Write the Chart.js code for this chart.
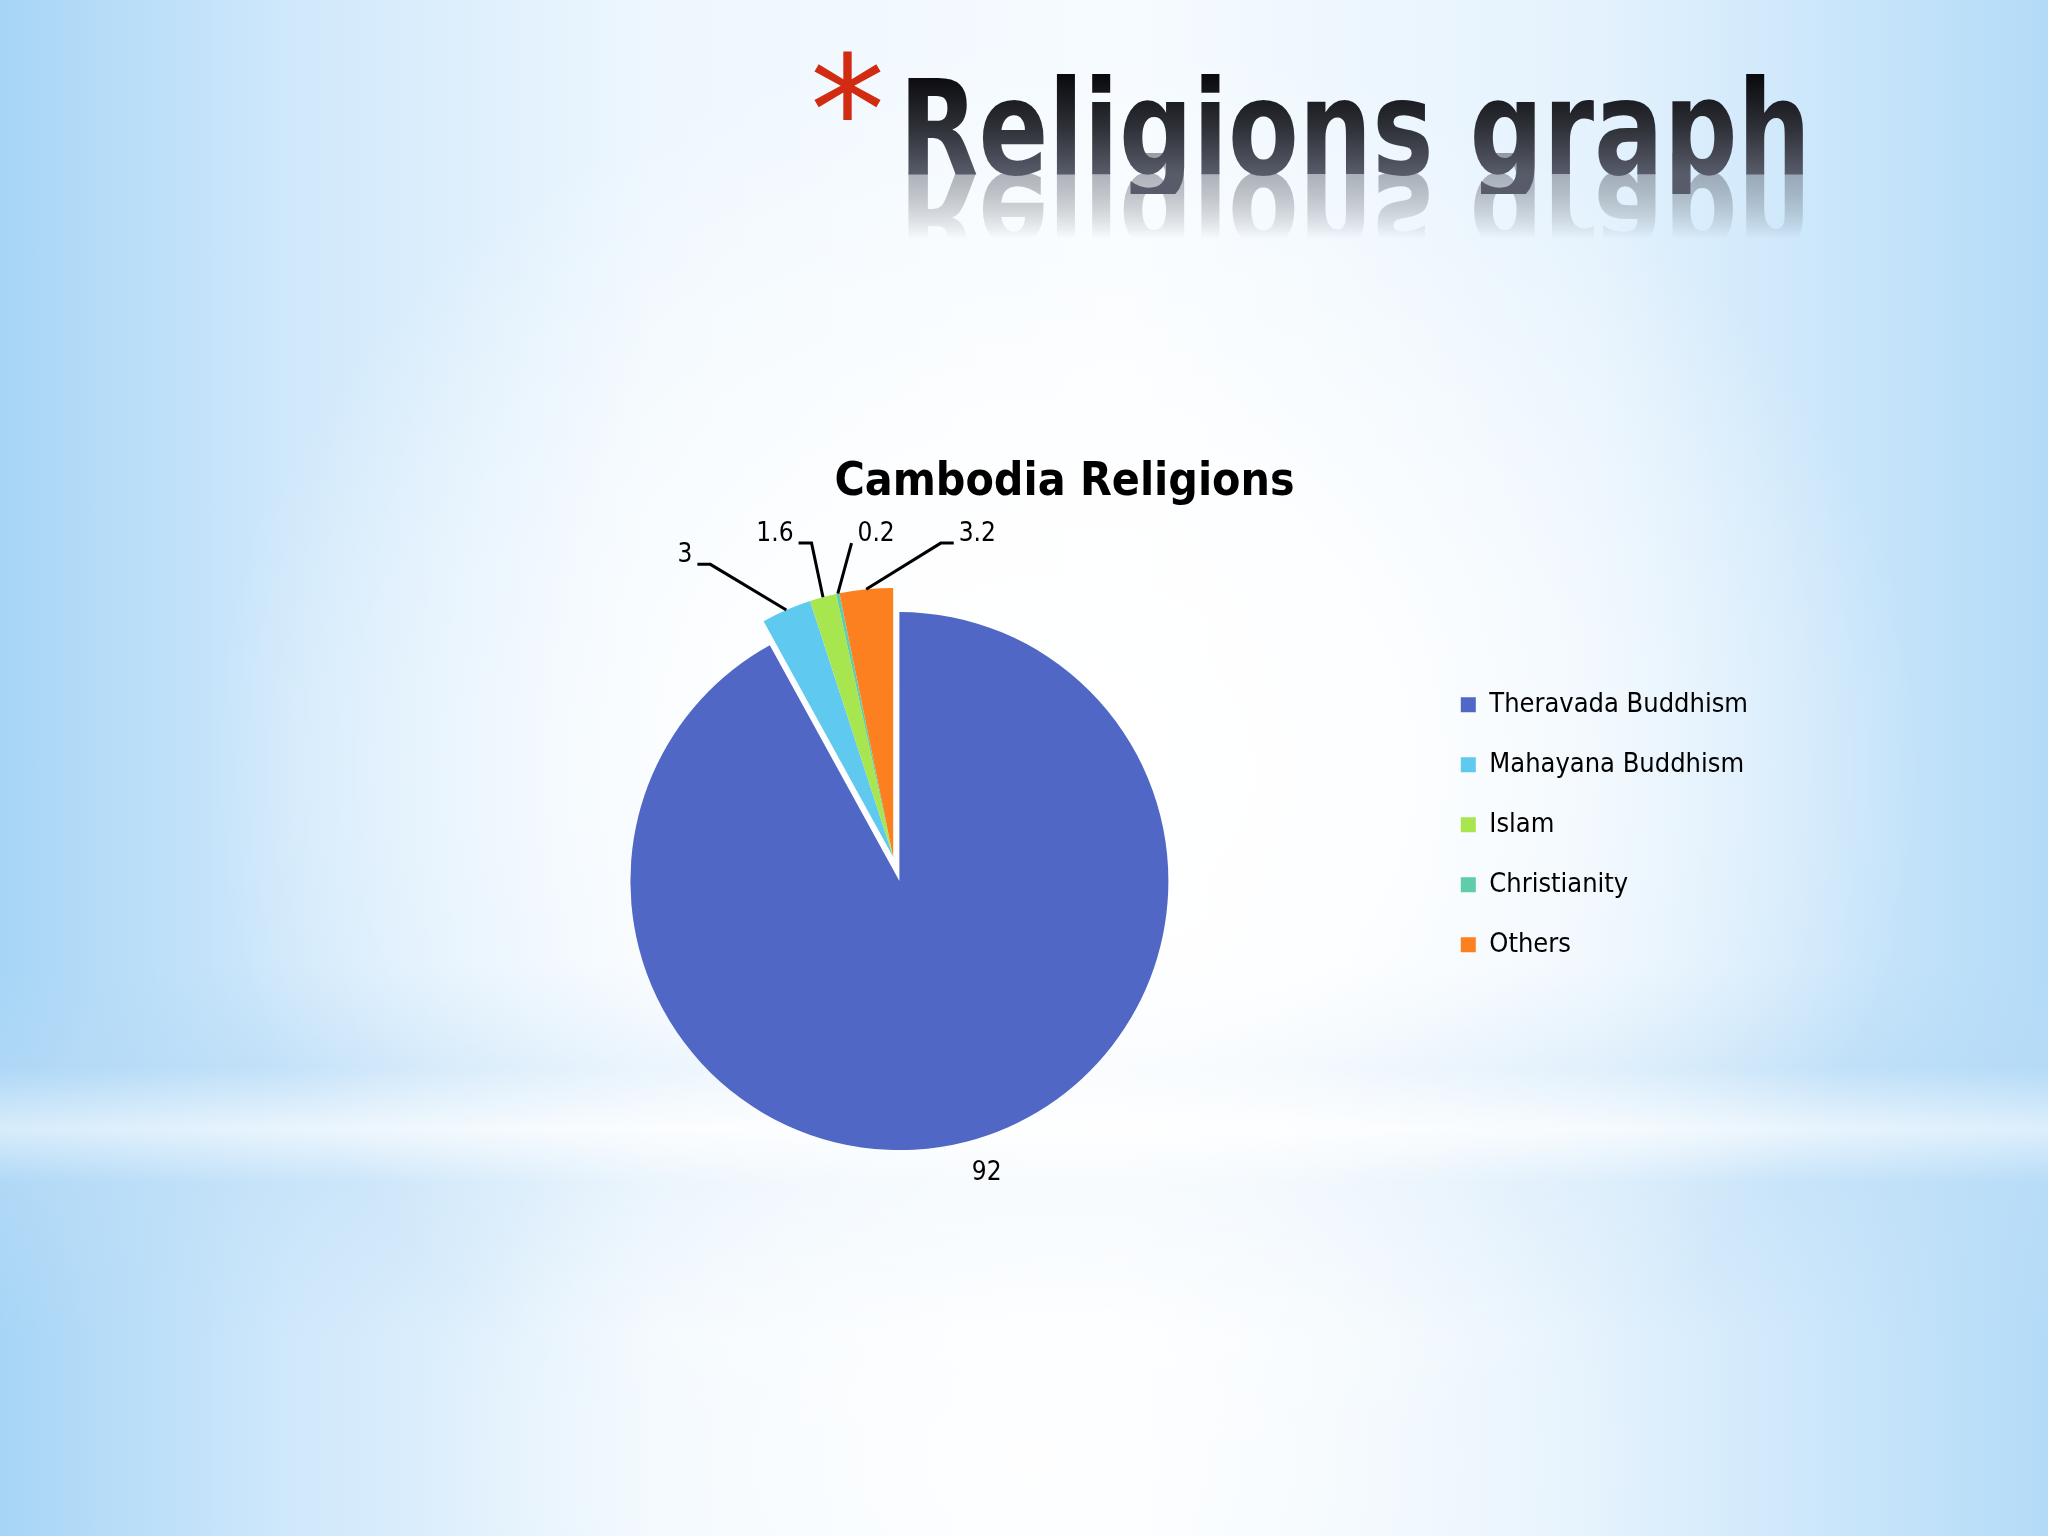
<!DOCTYPE html>
<html>
<head>
<meta charset="utf-8">
<script src="https://cdn.jsdelivr.net/npm/chart.js@4.4.1/dist/chart.umd.min.js"></script>
<style>
  html, body { margin: 0; padding: 0; }
  body {
    width: 2048px; height: 1536px; position: relative; overflow: hidden;
    background:
      radial-gradient(ellipse 42% 48% at 52% 50%, rgba(255,255,255,1) 0%, rgba(255,255,255,0.85) 40%, rgba(255,255,255,0) 100%),
      radial-gradient(ellipse 30% 30% at 50% 95%, rgba(255,255,255,0.9) 0%, rgba(255,255,255,0) 100%),
      linear-gradient(to bottom, rgba(255,255,255,0) 63%, rgba(182,218,246,0.45) 69.5%, rgba(255,255,255,0.55) 73.5%, rgba(190,222,247,0.4) 77%, rgba(255,255,255,0) 87%),
      linear-gradient(to right, #a7d5f6 0%, #cfe8fb 14%, #eef7fe 32%, #f6fbff 55%, #e4f2fd 78%, #b3dbf8 100%);
  }
  #slideTitle {
    position: absolute; left: 899px; top: 62px;
    font-family: "DejaVu Sans Condensed", "DejaVu Sans", sans-serif;
    font-weight: bold; font-size: 132px; line-height: 132px; height: 132px;
    white-space: nowrap;
    background: linear-gradient(to bottom, #0a0a0e 10%, #2f3138 50%, #585c6a 85%);
    -webkit-background-clip: text; background-clip: text; color: transparent;
    transform: scaleX(0.868); transform-origin: left top;
    -webkit-box-reflect: below -41px linear-gradient(to bottom, transparent 35%, rgba(255,255,255,0.6) 100%);
  }
  #asterisk {
    position: absolute; left: 810px; top: 36px;
    font-family: "DejaVu Sans", sans-serif; font-size: 150px; line-height: 150px;
    color: #d12c12;
  }
  #religionChart { position: absolute; left: 0; top: 0; }
</style>
</head>
<body>
<div id="asterisk">*</div>
<div id="slideTitle">Religions graph</div>
<canvas id="religionChart" width="2048" height="1536"></canvas>
<script>
// chart data
const categories = ['Theravada Buddhism', 'Mahayana Buddhism', 'Islam', 'Christianity', 'Others'];
const shares = [92, 3, 1.6, 0.2, 3.2];
const sliceColors = ['#5067c5', '#5fc9f0', '#a8e650', '#5fcdaa', '#fc8020'];

// which slices are pulled out of the pie (as one group)
const explodeIdx = [1, 2, 3, 4];
const EXPLODE = 25;
const labelFont = '26px "DejaVu Sans Condensed", "DejaVu Sans", sans-serif';

const explodeGroup = {
  id: 'explodeGroup',
  afterDatasetUpdate(chart, args) {
    const meta = chart.getDatasetMeta(args.index);
    const arcs = meta.data.filter((a, i) => explodeIdx.includes(i));
    if (!arcs.length) return;
    const start = Math.min(...arcs.map(a => a.startAngle));
    const end = Math.max(...arcs.map(a => a.endAngle));
    const mid = (start + end) / 2;
    arcs.forEach(a => {
      a.x += Math.cos(mid) * EXPLODE;
      a.y += Math.sin(mid) * EXPLODE;
    });
  }
};

const sliceLabels = {
  id: 'sliceLabels',
  afterDatasetsDraw(chart) {
    const ctx = chart.ctx;
    const area = chart.chartArea;
    const cx = (area.left + area.right) / 2;
    const cy = (area.top + area.bottom) / 2;
    const meta = chart.getDatasetMeta(0);
    const values = chart.data.datasets[0].data;

    ctx.save();
    ctx.font = labelFont;
    ctx.fillStyle = '#000';
    ctx.strokeStyle = '#000';
    ctx.lineWidth = 3;
    ctx.textAlign = 'center';
    ctx.textBaseline = 'middle';

    // labels of the pulled-out slices sit in a row above the pie, spread apart
    const row = [];
    meta.data.forEach((arc, i) => {
      if (!explodeIdx.includes(i)) return;
      const mid = (arc.startAngle + arc.endAngle) / 2;
      const R = arc.outerRadius;
      const txt = String(values[i]);
      row.push({i: i, txt: txt, w: ctx.measureText(txt).width,
                ex: arc.x + Math.cos(mid) * R, ey: arc.y + Math.sin(mid) * R});
    });
    row.sort((a, b) => a.ex - b.ex);
    const margin = 64;
    let prev = null;
    row.forEach(o => {
      o.lx = prev ? Math.max(o.ex, prev.lx + prev.w / 2 + o.w / 2 + margin) : o.ex;
      prev = o;
    });
    const shift = row.reduce((s, o) => s + o.ex - o.lx, 0) / row.length;
    row.forEach(o => { o.lx += shift; });

    row.forEach(o => {
      const R = meta.data[o.i].outerRadius;
      const lx = o.lx;
      const rowY = cy - (R + 78);
      const D = R + 121;
      const dx = Math.min(Math.abs(lx - cx), D);
      const ly = Math.max(rowY, cy - Math.sqrt(D * D - dx * dx));
      ctx.fillText(o.txt, lx, ly);

      const w = o.w;
      const by = ly + 9;
      ctx.beginPath();
      if (lx + w / 2 + 20 < o.ex) {
        ctx.moveTo(lx + w / 2 + 5, by);
        ctx.lineTo(lx + w / 2 + 18, by);
      } else if (lx - w / 2 - 20 > o.ex) {
        ctx.moveTo(lx - w / 2 - 5, by);
        ctx.lineTo(lx - w / 2 - 18, by);
      } else if (o.ex < lx) {
        ctx.moveTo(lx - w / 2 - 6, by);
      } else {
        ctx.moveTo(lx + w / 2 + 6, by);
      }
      ctx.lineTo(o.ex, o.ey);
      ctx.stroke();
    });

    // the other slices: label just outside the edge, no leader line
    meta.data.forEach((arc, i) => {
      if (explodeIdx.includes(i)) return;
      const txt = String(values[i]);
      const mid = (arc.startAngle + arc.endAngle) / 2;
      const dx = Math.cos(mid), dy = Math.sin(mid);
      const d = arc.outerRadius + 22;
      const w = ctx.measureText(txt).width;
      let lx = arc.x + dx * d;
      let ly = arc.y + dy * d;
      if (dx > 0.1) lx += w / 2; else if (dx < -0.1) lx -= w / 2;
      ly += (dy > 0 ? 1 : -1) * 10;
      ctx.fillText(txt, lx, ly);
    });
    ctx.restore();
  }
};

const config = {
  type: 'pie',
  data: {
    labels: categories,
    datasets: [{
      data: shares,
      backgroundColor: sliceColors,
      borderWidth: 0
    }]
  },
  options: {
    responsive: false,
    animation: false,
    radius: 269,
    layout: { padding: { left: 371, right: 290, top: 0, bottom: 432 } },
    plugins: {
      title: {
        display: true,
        text: 'Cambodia Religions',
        color: '#000',
        font: { family: '"DejaVu Sans Condensed", "DejaVu Sans", sans-serif', size: 46, weight: 'bold' },
        padding: { top: 455, bottom: 148 }
      },
      legend: {
        position: 'right',
        align: 'start',
        fullSize: false,
        labels: {
          boxWidth: 15,
          boxHeight: 15,
          padding: 33,
          color: '#000',
          font: { family: '"DejaVu Sans Condensed", "DejaVu Sans", sans-serif', size: 27 }
        }
      },
      tooltip: { enabled: false }
    }
  },
  plugins: [explodeGroup, sliceLabels]
};

const religionChart = new Chart(document.getElementById('religionChart'), config);
</script>
</body>
</html>
